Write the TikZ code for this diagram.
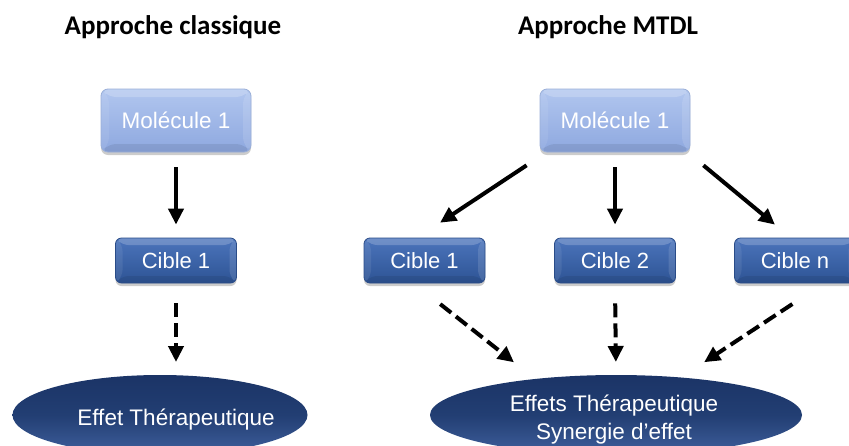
\documentclass[tikz,border=0pt]{standalone}
\usepackage{fontspec}
\setmainfont{Liberation Sans}
\newfontfamily\titlefont{Carlito}
\usetikzlibrary{arrows.meta,shapes.geometric,shadows}
\definecolor{molT}{HTML}{B1C6EF}
\definecolor{molB}{HTML}{8EA8DF}
\definecolor{molD}{HTML}{9AAFD8}
\definecolor{cibT}{HTML}{4C75BC}
\definecolor{cibB}{HTML}{2D5394}
\definecolor{cibD}{HTML}{2A4C88}
\definecolor{effT}{HTML}{1B3466}
\definecolor{effM}{HTML}{223E73}
\definecolor{effB}{HTML}{3F5F9C}
\tikzset{
  bevel/.style={path picture={
    \fill[white,opacity=.20] (path picture bounding box.north west) -- (path picture bounding box.north east)
      -- ([shift={(-#1,-#1)}]path picture bounding box.north east) -- ([shift={(#1,-#1)}]path picture bounding box.north west) -- cycle;
    \fill[black,opacity=.08] (path picture bounding box.south west) -- (path picture bounding box.south east)
      -- ([shift={(-#1,#1)}]path picture bounding box.south east) -- ([shift={(#1,#1)}]path picture bounding box.south west) -- cycle;
    \fill[white,opacity=.08] (path picture bounding box.north west) -- ([shift={(#1,-#1)}]path picture bounding box.north west)
      -- ([shift={(#1,#1)}]path picture bounding box.south west) -- (path picture bounding box.south west) -- cycle;
    \fill[white,opacity=.12] (path picture bounding box.north east) -- ([shift={(-#1,-#1)}]path picture bounding box.north east)
      -- ([shift={(-#1,#1)}]path picture bounding box.south east) -- (path picture bounding box.south east) -- cycle;
  }},
  boxshadow/.style={drop shadow={shadow xshift=0pt,shadow yshift=-3pt,opacity=.2,fill=black}},
  molbox/.style={rectangle,rounded corners=7pt,minimum width=150pt,minimum height=63pt,
    top color=molT,bottom color=molB,draw=molD,line width=.8pt,text=white,
    font=\fontsize{22.5}{26}\selectfont,bevel=8pt,boxshadow},
  ciblebox/.style={rectangle,rounded corners=6pt,minimum width=121pt,minimum height=45pt,
    top color=cibT,bottom color=cibB,draw=cibD,line width=.8pt,text=white,
    font=\fontsize{22}{25}\selectfont,bevel=7pt,boxshadow},
  effet/.style={ellipse,inner sep=0pt,outer sep=0pt,minimum height=80pt,
    top color=effT,bottom color=effB,middle color=effM},
  efftext/.style={text=white,font=\fontsize{22.5}{28}\selectfont,align=center},
  title/.style={font=\titlefont\bfseries\fontsize{27}{32}\selectfont,anchor=base,inner sep=0pt},
  arr/.style={line width=4pt,-{Triangle[width=15pt,length=16pt]}},
  darr/.style={arr,dash pattern=on 14pt off 6pt},
}
\begin{document}
\begin{tikzpicture}[x=1pt,y=1pt]
\useasboundingbox (0,0) rectangle (849,-445);
\fill[white] (0,0) rectangle (849,-445);
\clip (0,0) rectangle (849,-445);

\node[title] (t1) at (173,-34) {Approche classique};
\node[title] (t2) at (608,-34) {Approche MTDL};

\node[molbox] (m1) at (176,-120.5) {Molécule 1};
\node[molbox] (m2) at (615,-120.5) {Molécule 1};

\node[ciblebox] (c1) at (176,-260.5) {Cible 1};
\node[ciblebox] (c2a) at (424.5,-260.5) {Cible 1};
\node[ciblebox] (c2b) at (615,-260.5) {Cible 2};
\node[ciblebox] (c2n) at (795,-260.5) {Cible n};

\node[effet,minimum width=295pt,
  label={[efftext,xshift=16pt,yshift=-4.5pt]center:Effet Thérapeutique}] (e1) at (160,-415) {};
\node[effet,minimum width=372pt,
  label={[efftext,xshift=-2pt,yshift=-5pt]center:Effets Thérapeutique\\Synergie d’effet}] (e2) at (616,-415) {};

% classic
\draw[arr,shorten <=15pt,shorten >=13pt] (m1.south) -- (c1.north);
\draw[darr,shorten <=20pt,shorten >=13pt] (c1.south) -- ([xshift=16pt]e1.north);

% MTDL
\draw[arr,shorten <=23.4pt,shorten >=27pt] ([xshift=6.5pt]m2.south west) -- ([xshift=-7pt]c2a.north);
\draw[arr,shorten <=15pt,shorten >=13pt] (m2.south) -- (c2b.north);
\draw[arr,shorten <=20.3pt,shorten >=20.3pt] ([xshift=-2.6pt]m2.south east) -- ([xshift=-4.4pt]c2n.north);

\draw[darr,shorten <=33.4pt,shorten >=26.9pt] ([xshift=-10.5pt]c2a.south) -- (e2.156.4);
\draw[darr,shorten <=20pt,shorten >=13pt] (c2b.south) -- (e2.north);
\draw[darr,shorten <=37.5pt,shorten >=27.8pt] ([xshift=28.7pt]c2n.south) -- (e2.30.5);
\end{tikzpicture}
\end{document}
